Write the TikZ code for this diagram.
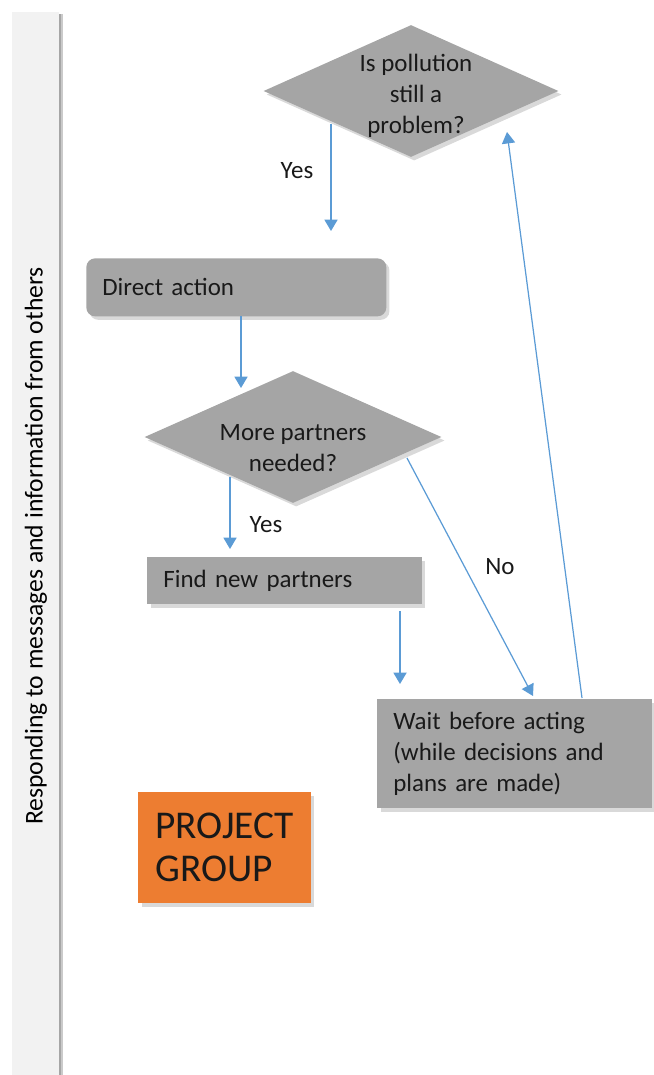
\documentclass[tikz,border=0pt]{standalone}
\usepackage{fontspec}
\setmainfont{Carlito}
\newfontfamily\stripfont{Carlito}
\usepackage{xcolor}
\definecolor{boxgray}{HTML}{A5A5A5}
\definecolor{flowblue}{HTML}{5B9BD5}
\definecolor{grouporange}{HTML}{ED7D31}
\definecolor{stripgray}{HTML}{F2F2F2}
\definecolor{edgegray}{HTML}{A6A6A6}
\usetikzlibrary{positioning,arrows.meta,shapes.geometric,shadows}

\begin{document}
\begin{tikzpicture}[x=0.02cm, y=-0.02cm,
    shaded/.style={fill=boxgray, drop shadow={shadow xshift=1.8pt, shadow yshift=-2pt, opacity=0.3}},
    decision/.style={shaded, diamond, inner sep=0pt, minimum width=5.9cm, minimum height=2.64cm},
    qtext/.style={align=center, font=\fontsize{14.2}{17.6}\selectfont, text=black!90},
    process/.style={shaded, rectangle, anchor=north west, inner xsep=0.32cm, inner ysep=0pt,
      align=left, font=\fontsize{14.2}{17.6}\selectfont, text=black!90},
    flow/.style={draw=flowblue, line width=0.7pt, -{Triangle[width=7.5pt, length=6.5pt]}},
    answer/.style={font=\fontsize{14.2}{16}\selectfont, text=black!90}]
  \useasboundingbox (0,0) rectangle (653,1075);
  % side strip
  \fill[stripgray] (12,12) rectangle (59,1075);
  \fill[edgegray!60] (59,14) rectangle (63,1075);
  \fill[edgegray] (59,14) rectangle (61,1075);
  \node[rotate=90, font=\stripfont\fontsize{14.6}{16}\selectfont] (lane) at (36,546)
    {Responding to messages and information from others};
  % decisions and steps
  \node[decision] (q1) at (411,91) {};
  \node[qtext] (q1t) at (416,96) {Is pollution\\still a\\problem?};
  \node[process, rounded corners=5pt, minimum width=6cm, minimum height=1.16cm,
    text width=5.36cm] (act) at (86,258) {Direct action};
  \node[decision, minimum width=5.94cm] (q2) at (293,437) {};
  \node[qtext] (q2t) at (293,448) {More partners\\needed?};
  \node[process, minimum width=5.5cm, minimum height=0.94cm, text width=4.86cm] (find) at (147,557)
    {Find new partners};
  \node[process, minimum width=5.5cm, minimum height=2.18cm, text width=4.86cm] (wait) at (377,699)
    {Wait before acting\\(while decisions and\\plans are made)};
  \node[process, fill=grouporange, minimum width=3.46cm, minimum height=2.22cm, inner xsep=0.34cm,
    text width=2.78cm, font=\fontsize{22.4}{24.5}\selectfont] (group) at (138,792) {PROJECT\\GROUP};
  % arrow ends
  \coordinate (a1s) at (331,124);
  \coordinate (a1e) at (331,231);
  \coordinate (a2s) at (241,316);
  \coordinate (a2e) at (241,388);
  \coordinate (a3s) at (230,477);
  \coordinate (a3e) at (230,549);
  \coordinate (a4s) at (400,611);
  \coordinate (a4e) at (400,684);
  \coordinate (a5s) at (407,458);
  \coordinate (a5e) at (533,696);
  \coordinate (a6s) at (582,698);
  \coordinate (a6e) at (507,132);
  \draw[flow] (a1s) -- (a1e);
  \draw[flow] (a2s) -- (a2e);
  \draw[flow] (a3s) -- (a3e);
  \draw[flow] (a4s) -- (a4e);
  \draw[flow] (a5s) -- (a5e);
  \draw[flow] (a6s) -- (a6e);
  \node[answer] (yes1) at (297,171) {Yes};
  \node[answer] (yes2) at (266,525) {Yes};
  \node[answer] (no) at (500,567) {No};
\end{tikzpicture}
\end{document}
